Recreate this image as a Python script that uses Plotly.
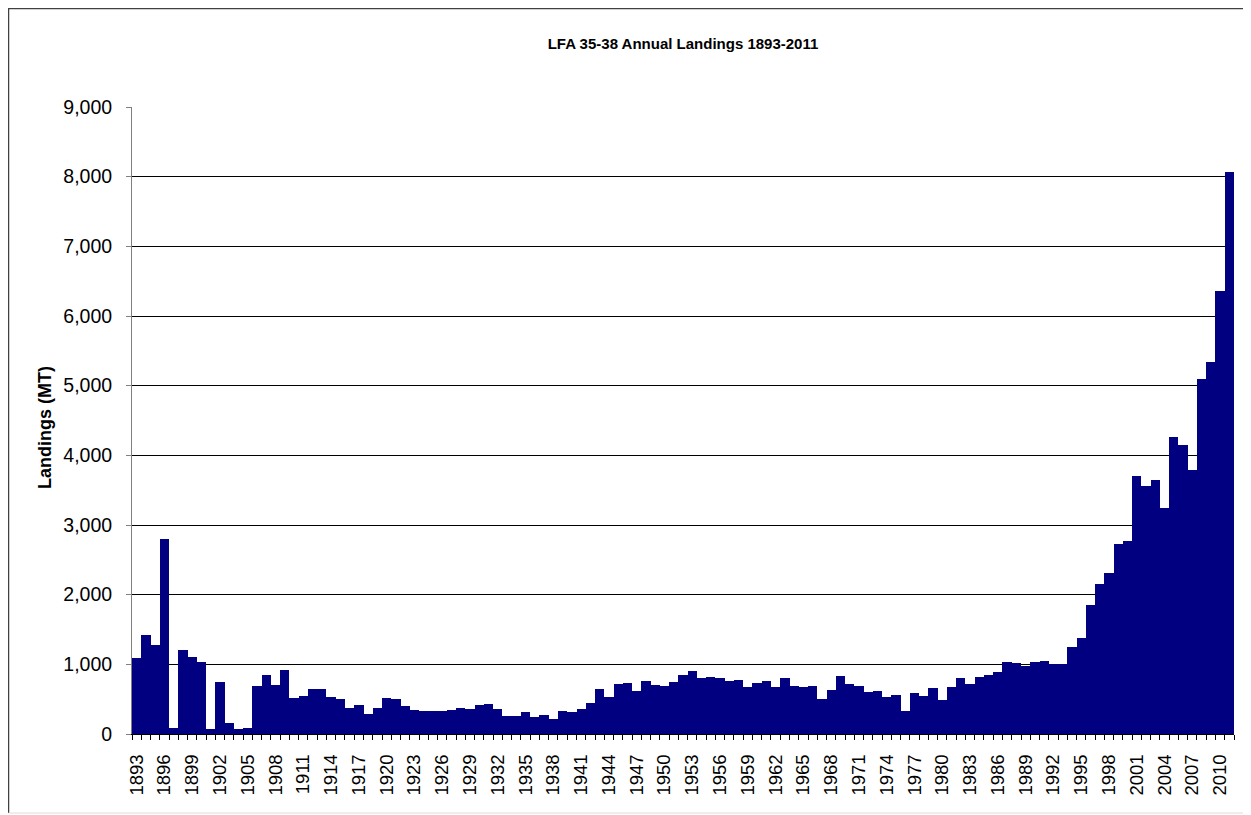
import plotly.graph_objects as go

years = list(range(1893, 2012))
landings = [
    1085, 1425, 1277, 2800, 82, 1205, 1100, 1028, 72, 746,
    153, 67, 81, 684, 842, 703, 913, 521, 550, 641,
    641, 531, 507, 368, 416, 282, 373, 512, 497, 402,
    340, 325, 325, 325, 349, 378, 354, 411, 426, 354,
    254, 263, 315, 239, 268, 210, 335, 320, 364, 445,
    646, 526, 717, 736, 622, 756, 698, 684, 746, 842,
    904, 803, 818, 808, 760, 770, 670, 732, 756, 670,
    799, 684, 675, 684, 502, 627, 828, 717, 693, 603,
    622, 536, 565, 335, 583, 550, 655, 483, 679, 803,
    722, 818, 847, 894, 1033, 1019, 980, 1038, 1043, 1005,
    1010, 1242, 1379, 1847, 2160, 2314, 2727, 2766, 3707, 3553,
    3641, 3251, 4269, 4142, 3790, 5094, 5342, 6360, 8066,
]
label_years = years[::3]

FONT = "Arial, Liberation Sans, sans-serif"

# page has an 8px body margin, so the figure is sized to fill the rest
W, H = 1243, 807
L, R, T, B = 124, 17, 99, 81
PW, PH = W - L - R, H - T - B

fig = go.Figure(go.Bar(
    x=years,
    y=landings,
    marker=dict(color="#000080", line=dict(width=0)),
))

fig.update_layout(
    width=W, height=H,
    margin=dict(l=L, r=R, t=T, b=B),
    paper_bgcolor="white", plot_bgcolor="white",
    bargap=0,
    showlegend=False,
    font=dict(family=FONT, color="black"),
    title=dict(
        text="<b>LFA 35-38 Annual Landings 1893-2011</b>",
        font=dict(size=15, family=FONT, color="black"),
        x=0.5, xref="paper", xanchor="center",
        y=1 - 36 / H, yref="container", yanchor="middle",
    ),
)

fig.update_xaxes(
    range=[1892.5, 2011.5],
    tickvals=label_years,
    ticktext=[str(y) for y in label_years],
    tickangle=-90,
    tickfont=dict(size=18.5),
    ticks="",
    ticklabelstandoff=12,
    showline=True, linecolor="black", linewidth=1,
    showgrid=False, zeroline=False,
    minor=dict(tick0=1892.5, dtick=1, ticks="outside", ticklen=5,
               tickcolor="black", showgrid=False),
)

fig.update_yaxes(
    range=[0, 9000],
    dtick=1000,
    tickformat=",",
    tickfont=dict(size=19.5),
    ticks="outside", ticklen=5, tickcolor="#808080",
    ticklabelstandoff=10,
    showline=True, linecolor="#808080", linewidth=1,
    showgrid=True, gridcolor="black", gridwidth=1,
    zeroline=False,
)

fig.add_annotation(
    text="<b>Landings (MT)</b>",
    xref="paper", yref="paper",
    x=-87 / PW, y=0.488,
    xanchor="center", yanchor="middle",
    textangle=-90, showarrow=False,
    font=dict(size=18, family=FONT, color="black"),
)

# outer chart border
bx = (0.5 - L) / PW
by_top = (PH + T - 0.5) / PH
by_bot = (PH - (805 - T)) / PH
fig.add_shape(type="path", xref="paper", yref="paper",
              path=f"M {bx} {by_bot} L {bx} {by_top} L 1.05 {by_top}",
              line=dict(color="#404040", width=1.5))
fig.add_shape(type="line", xref="paper", yref="paper",
              x0=bx, x1=1.05, y0=by_bot, y1=by_bot,
              line=dict(color="#dddddd", width=1))

fig.write_html("out.html")
